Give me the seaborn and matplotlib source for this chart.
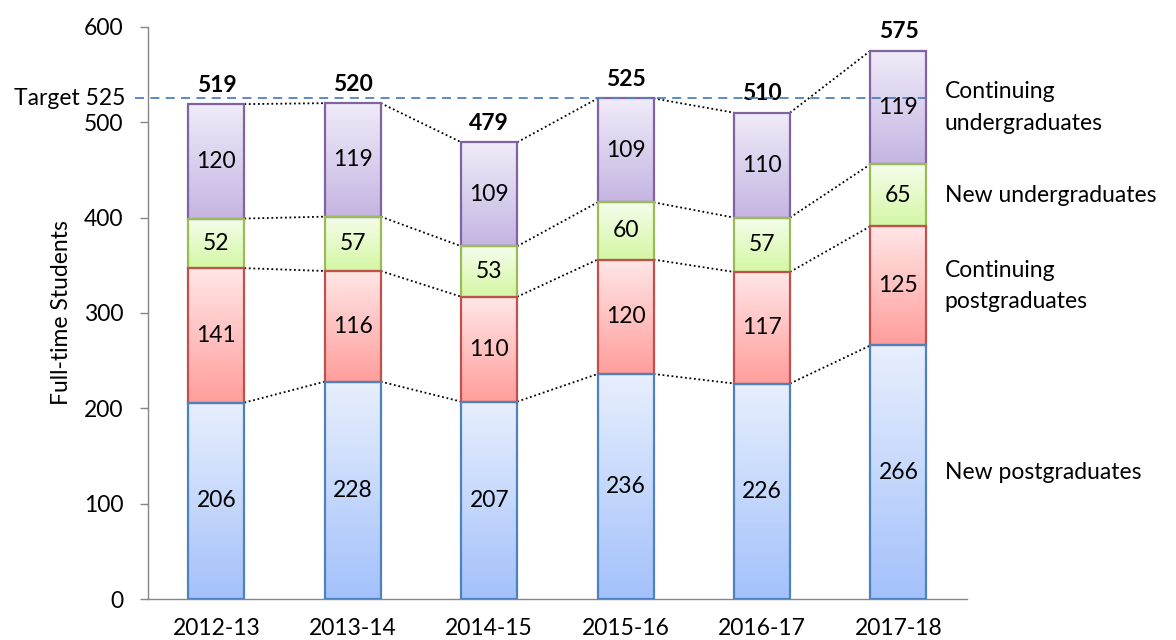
import matplotlib
matplotlib.use('Agg')
import matplotlib.pyplot as plt
import matplotlib.colors as mcolors
import numpy as np
import seaborn as sns

years = ['2012-13', '2013-14', '2014-15', '2015-16', '2016-17', '2017-18']
new_pg = [206, 228, 207, 236, 226, 266]
cont_pg = [141, 116, 110, 120, 117, 125]
new_ug = [52, 57, 53, 60, 57, 65]
cont_ug = [120, 119, 109, 109, 110, 119]
totals = [519, 520, 479, 525, 510, 575]
target = 525

series = [new_pg, cont_pg, new_ug, cont_ug]
names = ['New postgraduates', 'Continuing\npostgraduates', 'New undergraduates', 'Continuing\nundergraduates']
tops = ['#e8effd', '#ffe6e6', '#f5fdeb', '#f0ebf8']
bottoms = ['#a3c1fb', '#ff9e9c', '#d4f7a4', '#c5b5e2']
edges = ['#4f81bd', '#c0504d', '#9bbb59', '#8064a2']

sns.set_style('white')
plt.rcParams['font.family'] = ['Lato', 'DejaVu Sans']
plt.rcParams['text.color'] = 'black'
plt.rcParams['axes.labelcolor'] = 'black'
fs = 16.5

fig = plt.figure(figsize=(11.76, 6.4), dpi=100)
ax = fig.add_axes([0.126, 0.064, 0.696, 0.894])

w = 0.41
cum = np.cumsum(np.array(series), axis=0)

# stacked bars: draw cumulative heights from the tallest down, then cut each patch to its segment
seg_patches = {}
for k in range(len(series) - 1, -1, -1):
    before = len(ax.patches)
    sns.barplot(x=years, y=cum[k], color=tops[k], width=w, errorbar=None, ax=ax)
    seg_patches[k] = ax.patches[before:]

for k in range(len(series)):
    for i, p in enumerate(seg_patches[k]):
        base = cum[k - 1][i] if k > 0 else 0
        p.set_y(base)
        p.set_height(series[k][i])
        p.set_facecolor('none')
        p.set_edgecolor(edges[k])
        p.set_linewidth(1.6)
        p.set_zorder(3)
        grad = np.linspace(0, 1, 100)[:, None]
        c0 = np.array(mcolors.to_rgb(bottoms[k]))
        c1 = np.array(mcolors.to_rgb(tops[k]))
        img = (c0 + (c1 - c0) * grad)[:, None, :]
        x0 = p.get_x()
        im = ax.imshow(img, extent=[x0, x0 + p.get_width(), base, base + series[k][i]],
                       origin='lower', aspect='auto', zorder=2)
        im.set_clip_path(p)
        ax.text(i, base + series[k][i] / 2, str(series[k][i]), ha='center', va='center',
                fontsize=fs, zorder=5)

# dotted connectors between bars
for k in range(len(series)):
    for i in range(len(years) - 1):
        ax.plot([i + w / 2, i + 1 - w / 2], [cum[k][i], cum[k][i + 1]], color='black',
                linestyle=(0, (1, 1.5)), linewidth=1.3, zorder=1)

for i, t in enumerate(totals):
    ax.text(i, t + 9, str(t), ha='center', va='bottom', fontsize=fs, fontweight='bold')

# target line
ax.plot([-0.6, 5 + w / 2], [target, target], color='#4f81bd', linestyle=(0, (5, 3.5)),
        linewidth=1.3, clip_on=False, zorder=4)
ax.text(-0.665, target, 'Target 525', ha='right', va='center', fontsize=fs)

# series names at the right of the last bar
for k in range(len(series)):
    base = cum[k - 1][-1] if k > 0 else 0
    ax.text(5.34, base + series[k][-1] / 2, names[k], ha='left', va='center',
            fontsize=fs, linespacing=1.6)

ax.set_xlim(-0.5, 5.5)
ax.set_ylim(0, 600)
ax.set_yticks(range(0, 601, 100))
ax.set_xticks(range(len(years)))
ax.set_xticklabels(years)
ax.set_xticks(np.arange(-0.5, 5.6, 1), minor=True)
ax.tick_params(axis='x', which='major', length=0, pad=14, labelsize=fs, labelcolor='black')
ax.tick_params(axis='x', which='minor', length=6, color='#868686', width=1, direction='out')
ax.tick_params(axis='y', length=6, color='#868686', width=1, direction='out', pad=12,
               labelsize=fs, left=True, labelcolor='black')
for s in ['top', 'right']:
    ax.spines[s].set_visible(False)
for s in ['left', 'bottom']:
    ax.spines[s].set_color('#868686')
    ax.spines[s].set_linewidth(1)
ax.set_ylabel('Full-time Students', fontsize=fs)
ax.yaxis.set_label_coords(-0.093, 0.5)
ax.set_xlabel('')

fig.savefig('out.png', dpi=100)
